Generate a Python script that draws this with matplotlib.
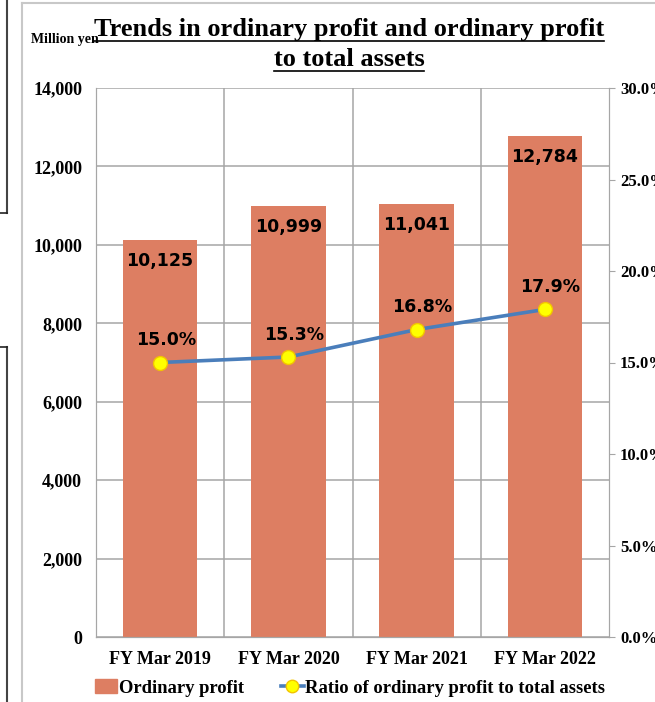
import matplotlib
matplotlib.use("Agg")
import matplotlib.pyplot as plt
from matplotlib.lines import Line2D
from matplotlib.patches import Patch
from matplotlib.ticker import FuncFormatter

# ── Data ───────────────────────────────────────────────────────────────────────
years = ["FY Mar 2019", "FY Mar 2020", "FY Mar 2021", "FY Mar 2022"]
profit = [10125, 10999, 11041, 12784]          # million yen
ratio = [15.0, 15.3, 16.8, 17.9]               # %
left_ticks = [0, 2000, 4000, 6000, 8000, 10000, 12000, 14000]
right_ticks = [0, 5, 10, 15, 20, 25, 30]

BAR = "#dd7e62"
LINE = "#4a7ebb"
GRID = "#a6a6a6"
SERIF = "Liberation Serif"
SANS = "DejaVu Sans"

W, H = 655, 702
fig = plt.figure(figsize=(W / 100, H / 100), dpi=100, facecolor="white")

ax = fig.add_axes([96 / W, 1 - 637 / H, (609 - 96) / W, (637 - 88) / H])
ax2 = ax.twinx()

x = list(range(len(years)))
ax.bar(x, profit, width=0.58, color=BAR, zorder=2)
ax.set_xlim(-0.5, len(years) - 0.5)
ax.set_ylim(0, 14000)
ax.set_yticks(left_ticks)
ax.yaxis.set_major_formatter(FuncFormatter(lambda v, p: f"{int(v):,}"))
ax.grid(axis="y", color=GRID, lw=1.1, zorder=0)
for b in [i + 0.5 for i in x[:-1]]:
    ax.axvline(b, color=GRID, lw=1.1, zorder=0)
ax.set_xticks(x)
ax.set_xticklabels(years)
ax.tick_params(axis="x", length=0, pad=10)
ax.tick_params(axis="y", length=0, pad=10)
for lbl in ax.get_xticklabels() + ax.get_yticklabels():
    lbl.set_fontfamily(SERIF)
    lbl.set_fontweight("bold")
    lbl.set_fontsize(13)
for s in ax.spines.values():
    s.set_color(GRID)
ax.spines["top"].set_visible(False)

for xi, v in zip(x, profit):
    ax.annotate(f"{v:,}", (xi, v), xytext=(0, -15), textcoords="offset points",
                ha="center", va="center", fontsize=12.5, fontweight="bold",
                family=SANS, zorder=5)

ax2.plot(x, ratio, color=LINE, lw=2.6, marker="o", ms=10,
         mfc="#ffff00", mec="#f2c400", mew=1, zorder=4)
ax2.set_ylim(0, 30)
ax2.set_yticks(right_ticks)
ax2.yaxis.set_major_formatter(FuncFormatter(lambda v, p: f"{v:.1f}%"))
ax2.tick_params(axis="y", length=4, color=GRID, pad=4)
for lbl in ax2.get_yticklabels():
    lbl.set_fontfamily(SERIF)
    lbl.set_fontweight("bold")
    lbl.set_fontsize(12)
for s in ax2.spines.values():
    s.set_color(GRID)
ax2.spines["top"].set_visible(False)

for xi, r in zip(x, ratio):
    ax2.annotate(f"{r:.1f}%", (xi, r), xytext=(4, 16), textcoords="offset points",
                 ha="center", va="center", fontsize=12.5, fontweight="bold",
                 family=SANS, zorder=5)

# ── Titles ─────────────────────────────────────────────────────────────────────
t1 = fig.text(349 / W, 1 - 36 / H, "Trends in ordinary profit and ordinary profit",
              ha="center", va="baseline", fontsize=19, fontweight="bold", family=SERIF)
t2 = fig.text(349 / W, 1 - 66 / H, "to total assets",
              ha="center", va="baseline", fontsize=19, fontweight="bold", family=SERIF)
fig.text(31 / W, 1 - 43 / H, "Million yen", ha="left", va="baseline",
         fontsize=10, fontweight="bold", family=SERIF)

# ── Legend ─────────────────────────────────────────────────────────────────────
handles = [Patch(color=BAR),
           Line2D([], [], color=LINE, lw=2.6, marker="o", ms=9,
                  mfc="#ffff00", mec="#f2c400")]
leg = fig.legend(handles, ["Ordinary profit", "Ratio of ordinary profit to total assets"],
                 loc="center", bbox_to_anchor=(350 / W, 1 - 688 / H), ncol=2,
                 frameon=False, handlelength=1.2, handletextpad=0.1,
                 columnspacing=2.0, prop={"family": SERIF, "weight": "bold", "size": 13.4})

# ── Frame fragments of the surrounding page ───────────────────────────────────
def fline(xs, ys, **kw):
    fig.add_artist(Line2D([v / W for v in xs], [1 - v / H for v in ys],
                          transform=fig.transFigure, **kw))

fline([22, 22], [3, H], color="#c8c8c8", lw=1.5)
fline([22, W], [3, 3], color="#c8c8c8", lw=1.5)
fline([7, 7], [0, 213], color="#444444", lw=1.5)
fline([0, 7], [213, 213], color="#222222", lw=1.2)
fline([7, 7], [347, H], color="#444444", lw=1.5)
fline([0, 7], [347, 347], color="#222222", lw=1.2)

# underline title lines
fig.canvas.draw()
r = fig.canvas.get_renderer()
for t in (t1, t2):
    bb = t.get_window_extent(r)
    ybase = bb.y0 + 0.5
    fig.add_artist(Line2D([bb.x0 / W, bb.x1 / W], [ybase / H, ybase / H],
                          transform=fig.transFigure, color="black", lw=1.2))

fig.savefig("out.png", dpi=100, facecolor="white")
